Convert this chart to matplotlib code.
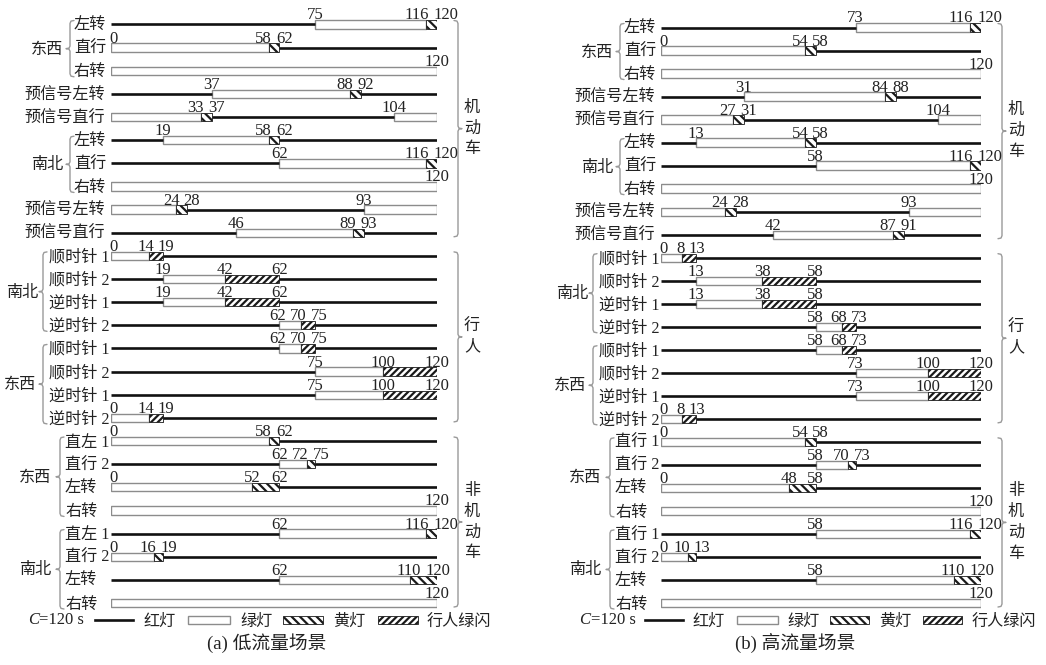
import matplotlib
matplotlib.use("Agg")
import matplotlib.pyplot as plt
from matplotlib.patches import Rectangle

plt.rcParams["font.family"] = ["Noto Sans CJK SC", "DejaVu Sans"]
plt.rcParams["hatch.linewidth"] = 1.6

SERIF = ["Liberation Serif", "Noto Sans CJK SC"]

# ---------------- data ----------------
CYCLE = 120

MOTOR_LABELS = ["左转", "直行", "右转", "预信号左转", "预信号直行",
                "左转", "直行", "右转", "预信号左转", "预信号直行"]
PED_LABELS = ["顺时针 1", "顺时针 2", "逆时针 1", "逆时针 2",
              "顺时针 1", "顺时针 2", "逆时针 1", "逆时针 2"]
BIKE_LABELS_LOW = ["直左 1", "直行 2", "左转", "右转", "直左 1", "直行 2", "左转", "右转"]
BIKE_LABELS_HIGH = ["直行 1", "直行 2", "左转", "右转", "直行 1", "直行 2", "左转", "右转"]

# R = red, G = green, Y = yellow, F = pedestrian green flash
LOW_BOUNDS = [
    [0, 75, 116, 120], [0, 58, 62, 120], [0, 120], [0, 37, 88, 92, 120], [0, 33, 37, 104, 120],
    [0, 19, 58, 62, 120], [0, 62, 116, 120], [0, 120], [0, 24, 28, 93, 120], [0, 46, 89, 93, 120],
    [0, 14, 19, 120], [0, 19, 42, 62, 120], [0, 19, 42, 62, 120], [0, 62, 70, 75, 120],
    [0, 62, 70, 75, 120], [0, 75, 100, 120], [0, 75, 100, 120], [0, 14, 19, 120],
    [0, 58, 62, 120], [0, 62, 72, 75, 120], [0, 52, 62, 120], [0, 120],
    [0, 62, 116, 120], [0, 16, 19, 120], [0, 62, 110, 120], [0, 120],
]
LOW_STATES = ["RGY", "GYR", "G", "RGYR", "GYRG", "RGYR", "RGY", "G", "GYRG", "RGYR",
              "GFR", "RGFR", "RGFR", "RGFR", "RGFR", "RGF", "RGF", "GFR",
              "GYR", "RGYR", "GYR", "G", "RGY", "GYR", "RGY", "G"]
LOW_MARKS = [[75, 116, 120], [0, 58, 62], [120], [37, 88, 92], [33, 37, 104],
             [19, 58, 62], [62, 116, 120], [120], [24, 28, 93], [46, 89, 93],
             [0, 14, 19], [19, 42, 62], [19, 42, 62], [62, 70, 75],
             [62, 70, 75], [75, 100, 120], [75, 100, 120], [0, 14, 19],
             [0, 58, 62], [62, 72, 75], [0, 52, 62], [120],
             [62, 116, 120], [0, 16, 19], [62, 110, 120], [120]]

HIGH_BOUNDS = [
    [0, 73, 116, 120], [0, 54, 58, 120], [0, 120], [0, 31, 84, 88, 120], [0, 27, 31, 104, 120],
    [0, 13, 54, 58, 120], [0, 58, 116, 120], [0, 120], [0, 24, 28, 93, 120], [0, 42, 87, 91, 120],
    [0, 8, 13, 120], [0, 13, 38, 58, 120], [0, 13, 38, 58, 120], [0, 58, 68, 73, 120],
    [0, 58, 68, 73, 120], [0, 73, 100, 120], [0, 73, 100, 120], [0, 8, 13, 120],
    [0, 54, 58, 120], [0, 58, 70, 73, 120], [0, 48, 58, 120], [0, 120],
    [0, 58, 116, 120], [0, 10, 13, 120], [0, 58, 110, 120], [0, 120],
]
HIGH_STATES = LOW_STATES
HIGH_MARKS = [[73, 116, 120], [0, 54, 58], [120], [31, 84, 88], [27, 31, 104],
              [13, 54, 58], [58, 116, 120], [120], [24, 28, 93], [42, 87, 91],
              [0, 8, 13], [13, 38, 58], [13, 38, 58], [58, 68, 73],
              [58, 68, 73], [73, 100, 120], [73, 100, 120], [0, 8, 13],
              [0, 54, 58], [58, 70, 73], [0, 48, 58], [120],
              [58, 116, 120], [0, 10, 13], [58, 110, 120], [120]]

LEGEND_NAMES = ["红灯", "绿灯", "黄灯", "行人绿闪"]
CATEGORIES = ["机动车", "行人", "非机动车"]

# ---------------- figure ----------------
W, H = 1046, 665
fig = plt.figure(figsize=(W / 100, H / 100), dpi=100)
over = fig.add_axes([0, 0, 1, 1])
over.set_xlim(0, W)
over.set_ylim(H, 0)
over.axis("off")

RED = "#111111"
GREEN_EDGE = "#8c8c8c"
BRACE = "#9a9a9a"
TXT = "#222222"
HATCH_Y = "\\\\\\\\"
HATCH_F = "/////"
BOX_H = 0.36
NUM_FS = 12
LAB_FS = 11.6


def brace(x, y0, y1, ym, side):
    """Curly brace; side=+1 opens to the right (left brace), -1 to the left."""
    s = side
    xs = [x + 4 * s, x + 1 * s, x, x, x - 1 * s, x - 4 * s,
          x - 1 * s, x, x, x + 1 * s, x + 4 * s]
    ys = [y0, y0 + 0.6, y0 + 3, ym - 2.5, ym - 0.5, ym,
          ym + 0.5, ym + 2.5, y1 - 3, y1 - 0.6, y1]
    over.plot(xs, ys, color=BRACE, lw=1.0, solid_capstyle="round")


def spread(xs, ws, gap=4.0):
    xs = list(xs)
    for _ in range(60):
        for k in range(len(xs) - 1):
            need = (ws[k] + ws[k + 1]) / 2 + gap
            d = xs[k + 1] - xs[k]
            if d < need:
                sh = (need - d) / 2
                xs[k] -= sh
                xs[k + 1] += sh
    return xs


def draw_panel(x0, x1, top, step, bounds, states, marks, row_labels, caption, cap_x):
    n = len(bounds)
    ytop = top - 0.5 * step
    ybot = top + (n - 0.5) * step
    ax = fig.add_axes([x0 / W, 1 - ybot / H, (x1 - x0) / W, (ybot - ytop) / H])
    ax.set_xlim(0, CYCLE)
    ax.set_ylim(n - 0.5, -0.5)
    ax.axis("off")
    ppu = (x1 - x0) / CYCLE

    def ry(i):
        return top + i * step

    for i in range(n):
        b = bounds[i]
        for j, s in enumerate(states[i]):
            a, e = b[j], b[j + 1]
            if s == "R":
                ax.hlines(i, a, e, color=RED, lw=1.9)
            elif s == "G":
                ax.barh(i, e - a, left=a, height=BOX_H, color="white",
                        edgecolor=GREEN_EDGE, lw=1.0)
            else:
                ax.barh(i, e - a, left=a, height=BOX_H, color="white",
                        edgecolor="#1a1a1a", lw=0.6,
                        hatch=HATCH_Y if s == "Y" else HATCH_F)
        # values above the bar
        vals = marks[i]
        px = [x0 + v * ppu + (3 if v == 0 else 0) for v in vals]
        ws = [len(str(v)) * 0.5 * NUM_FS * 100 / 72 for v in vals]
        npx = spread(px, ws)
        for v, q in zip(vals, npx):
            p = x0 + v * ppu
            ax.annotate(str(v), xy=(v, i), xytext=((q - p) * 0.72, 3.6),
                        textcoords="offset points", ha="center", va="baseline",
                        fontsize=NUM_FS, family=SERIF, color=TXT,
                        annotation_clip=False)

    # row labels
    for i, lab in enumerate(row_labels):
        y = ry(i) + 1.5
        if i in (3, 4, 8, 9):
            over.text(x0 - 6, y, lab, ha="right", va="center", fontsize=LAB_FS, family=SERIF, color=TXT)
        elif i < 10:
            over.text(x0 - 37, y, lab, ha="left", va="center", fontsize=LAB_FS, family=SERIF, color=TXT)
        elif i < 18:
            over.text(x0 - 62, y, lab, ha="left", va="center", fontsize=LAB_FS, family=SERIF, color=TXT)
        else:
            over.text(x0 - 46, y, lab, ha="left", va="center", fontsize=LAB_FS, family=SERIF, color=TXT)

    # direction groups with left braces
    groups = [("东西", 0, 2, -41, -64), ("南北", 5, 7, -41, -64),
              ("南北", 10, 13, -68, -89), ("东西", 14, 17, -68, -91),
              ("东西", 18, 21, -51, -76), ("南北", 22, 25, -51, -76)]
    for name, r0, r1, bx, tx in groups:
        ya, yb = ry(r0) - 4, ry(r1) + 6
        ym = (ya + yb) / 2
        brace(x0 + bx, ya, yb, ym, +1)
        over.text(x0 + tx, ym + 1, name, ha="center", va="center", fontsize=LAB_FS,
                  family=SERIF, color=TXT)

    # category braces on the right
    cats = [(CATEGORIES[0], 0, 9), (CATEGORIES[1], 10, 17), (CATEGORIES[2], 18, 25)]
    for name, r0, r1 in cats:
        ya, yb = ry(r0) - 4, ry(r1) + 4
        ym = (ya + yb) / 2
        brace(x1 + 21, ya, yb, ym, -1)
        over.text(x1 + 35, ym, "\n".join(name), ha="center", va="center",
                  fontsize=LAB_FS, linespacing=1.4, family=SERIF, color=TXT)

    # legend row
    k = (x1 - x0) / 326.0
    ly = 620
    over.text(x0 - 83 * k, ly, "C", ha="left", va="center", fontsize=NUM_FS,
              family="Liberation Serif", style="italic", color=TXT)
    over.text(x0 - 83 * k + 11, ly, "=120 s", ha="left", va="center", fontsize=NUM_FS,
              family="Liberation Serif", color=TXT)
    over.plot([x0 - 16 * k, x0 + 22 * k], [ly, ly], color=RED, lw=1.9)
    over.text(x0 + 32 * k, ly + 1, LEGEND_NAMES[0], ha="left", va="center", fontsize=LAB_FS, color=TXT)
    over.add_patch(Rectangle((x0 + 77 * k, ly - 4), 42 * k, 8, facecolor="white",
                             edgecolor=GREEN_EDGE, lw=1.0))
    over.text(x0 + 129 * k, ly + 1, LEGEND_NAMES[1], ha="left", va="center", fontsize=LAB_FS, color=TXT)
    over.add_patch(Rectangle((x0 + 172 * k, ly - 4), 40 * k, 8, facecolor="white",
                             edgecolor="#1a1a1a", lw=0.6, hatch=HATCH_Y))
    over.text(x0 + 222 * k, ly + 1, LEGEND_NAMES[2], ha="left", va="center", fontsize=LAB_FS, color=TXT)
    over.add_patch(Rectangle((x0 + 267 * k, ly - 4), 40 * k, 8, facecolor="white",
                             edgecolor="#1a1a1a", lw=0.6, hatch=HATCH_F))
    over.text(x0 + 316 * k, ly + 1, LEGEND_NAMES[3], ha="left", va="center", fontsize=LAB_FS, color=TXT)

    over.text(cap_x, 643, caption, ha="center", va="center", fontsize=13.5,
              family=SERIF, color=TXT)


draw_panel(111, 437, 24.5, (603 - 24.5) / 25, LOW_BOUNDS, LOW_STATES, LOW_MARKS,
           MOTOR_LABELS + PED_LABELS + BIKE_LABELS_LOW, "(a) 低流量场景", 267)
draw_panel(661, 981, 27.5, (603 - 27.5) / 25, HIGH_BOUNDS, HIGH_STATES, HIGH_MARKS,
           MOTOR_LABELS + PED_LABELS + BIKE_LABELS_HIGH, "(b) 高流量场景", 795)

fig.savefig("out.png", dpi=100, facecolor="white")
